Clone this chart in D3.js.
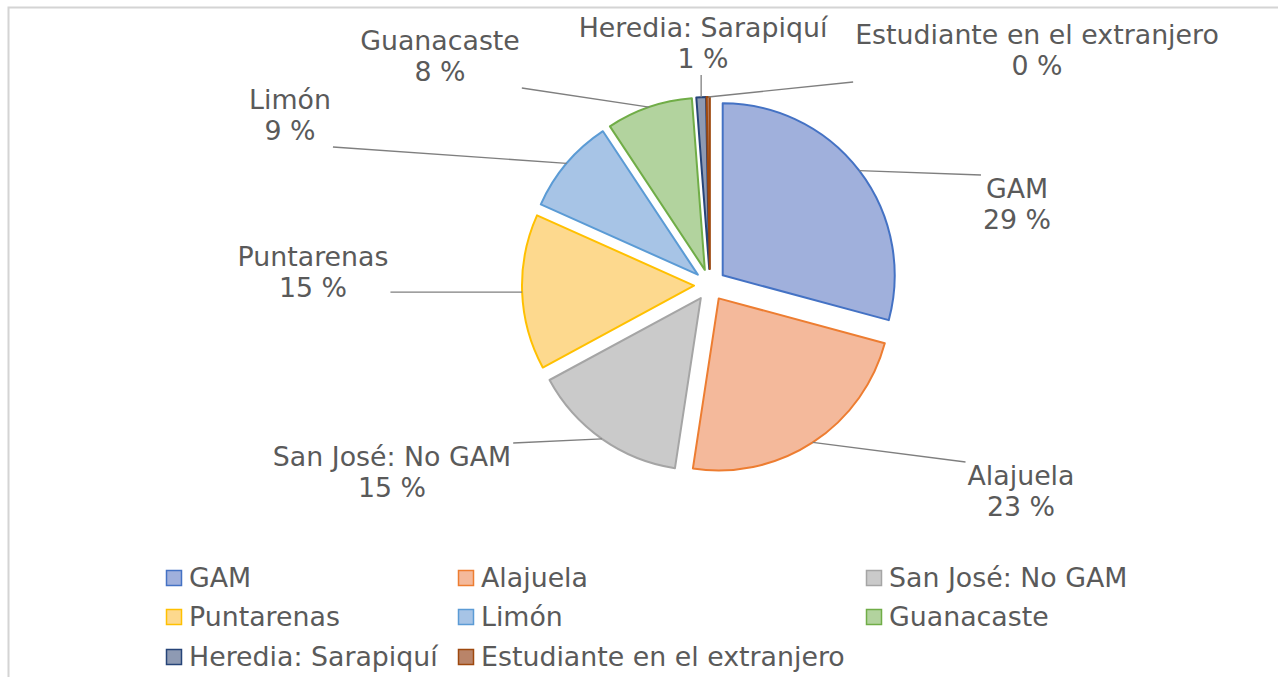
<!DOCTYPE html>
<html lang="es">
<head>
    <meta charset="UTF-8">
    <title>Distribución por región</title>
    <script src="https://d3js.org/d3.v7.min.js"></script>
    <style>
        body { margin: 0; background: #fff; }
        text { font-family: "DejaVu Sans", sans-serif; fill: #5a5a5a; }
    </style>
</head>
<body>
    <div id="my_dataviz"></div>

    <script>
        // data (share of the whole, in %)
        const categories = ["GAM", "Alajuela", "San José: No GAM", "Puntarenas", "Limón", "Guanacaste", "Heredia: Sarapiquí", "Estudiante en el extranjero"];
        const values = [29.2, 23.2, 14.7, 14.6, 9.0, 8.1, 0.9, 0.3];

        const fills   = ["#a0b0dc", "#f4b99b", "#cacaca", "#fdd98e", "#a7c4e6", "#b2d39e", "#8e9ab3", "#b98469"];
        const strokes = ["#4472c4", "#ed7d31", "#a5a5a5", "#ffc000", "#5b9bd5", "#70ad47", "#264478", "#9e480e"];

        // where each data label sits (centre x, first baseline)
        const labelPos = [[1017, 198], [1021, 485], [392, 466], [313, 266], [290, 109], [440, 50], [703, 37], [1037, 44]];

        const W = 1278, H = 677;
        const cx = 710, cy = 285, radius = 172, explode = 16;
        const fontSize = 26.8, lineGap = 31;

        const svg = d3.select("#my_dataviz")
            .append("svg")
            .attr("width", W)
            .attr("height", H);

        // chart frame (cut off at right and bottom)
        svg.append("rect")
            .attr("x", 8.5).attr("y", 7.5)
            .attr("width", W + 20).attr("height", H + 20)
            .attr("fill", "none")
            .attr("stroke", "#d4d4d4")
            .attr("stroke-width", 2);

        const pie = d3.pie().sort(null).value(d => d);
        const arcs = pie(values);
        const arc = d3.arc().innerRadius(0).outerRadius(radius);

        const g = svg.append("g").attr("transform", `translate(${cx},${cy})`);

        function shift(d) {
            const a = (d.startAngle + d.endAngle) / 2;
            return [explode * Math.sin(a), -explode * Math.cos(a)];
        }

        g.selectAll("path.slice")
            .data(arcs)
            .join("path")
            .attr("class", "slice")
            .attr("transform", d => `translate(${shift(d)})`)
            .attr("d", arc)
            .attr("fill", (d, i) => fills[i])
            .attr("stroke", (d, i) => strokes[i])
            .attr("stroke-width", 2)
            .attr("stroke-linejoin", "round");

        // labels
        const labels = svg.append("g");
        arcs.forEach(function(d, i) {
            const lg = labels.append("g");
            lg.append("text")
                .attr("x", labelPos[i][0]).attr("y", labelPos[i][1])
                .attr("text-anchor", "middle")
                .attr("font-size", fontSize)
                .text(categories[i]);
            lg.append("text")
                .attr("x", labelPos[i][0]).attr("y", labelPos[i][1] + lineGap)
                .attr("text-anchor", "middle")
                .attr("font-size", fontSize)
                .text(Math.round(values[i]) + " %");

            // leader line: from the slice edge at its mid angle to the nearest point of the label box
            const b = lg.node().getBBox();
            const a = (d.startAngle + d.endAngle) / 2;
            const s = shift(d);
            const px = cx + s[0] + radius * Math.sin(a);
            const py = cy + s[1] - radius * Math.cos(a);
            const x0 = b.x - 2, x1 = b.x + b.width + 2, y0 = b.y + 2, y1 = b.y + b.height + 1;
            const ex = Math.max(x0, Math.min(x1, px));
            const ey = Math.max(y0, Math.min(y1, py));
            svg.append("line")
                .attr("x1", px).attr("y1", py)
                .attr("x2", ex).attr("y2", ey)
                .attr("stroke", "#7f7f7f")
                .attr("stroke-width", 1.3);
        });

        // legend: three columns
        const colX = [166, 458, 866];
        const rowY = [570, 609, 649];
        const legend = svg.append("g")
            .selectAll("g")
            .data(categories)
            .join("g")
            .attr("transform", (d, i) => `translate(${colX[i % 3]},${rowY[Math.floor(i / 3)]})`);

        legend.append("rect")
            .attr("x", 0.5).attr("y", 0.5)
            .attr("width", 15).attr("height", 15)
            .attr("fill", (d, i) => fills[i])
            .attr("stroke", (d, i) => strokes[i])
            .attr("stroke-width", 1.5);

        legend.append("text")
            .attr("x", 23).attr("y", 17)
            .attr("font-size", fontSize)
            .text(d => d);
    </script>
</body>
</html>
